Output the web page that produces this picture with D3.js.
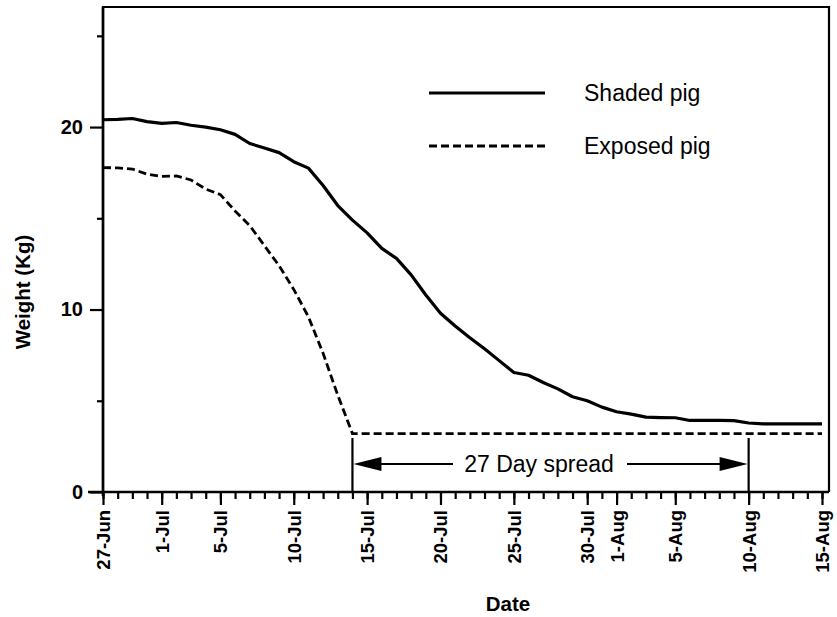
<!DOCTYPE html>
<html>
<head>
<meta charset="utf-8">
<script src="https://cdn.jsdelivr.net/npm/d3@7"></script>
<style>
  body { margin: 0; background: #fff; }
  svg { display: block; font-family: "Liberation Sans", Arial, Helvetica, sans-serif; }
</style>
</head>
<body>
<svg width="837" height="617"></svg>
<script>
// daily weights from 27-Jun
const startDay = '1990-06-27';
const shadedPig = [20.4, 20.42, 20.47, 20.3, 20.2, 20.25, 20.1, 20.0, 19.85, 19.6,
  19.1, 18.85, 18.6, 18.1, 17.75, 16.8, 15.7, 14.9, 14.2, 13.35,
  12.8, 11.9, 10.8, 9.8, 9.1, 8.45, 7.85, 7.2, 6.55, 6.4,
  6.0, 5.65, 5.22, 5.0, 4.65, 4.4, 4.27, 4.1, 4.08, 4.07,
  3.92, 3.92, 3.92, 3.91, 3.78, 3.73, 3.73, 3.73, 3.73, 3.73];
const exposedPig = [17.78, 17.76, 17.7, 17.42, 17.3, 17.32, 17.1, 16.6, 16.3, 15.4,
  14.6, 13.5, 12.4, 11.1, 9.6, 7.6, 5.3, 3.2, 3.2, 3.2,
  3.2, 3.2, 3.2, 3.2, 3.2, 3.2, 3.2, 3.2, 3.2, 3.2,
  3.2, 3.2, 3.2, 3.2, 3.2, 3.2, 3.2, 3.2, 3.2, 3.2,
  3.2, 3.2, 3.2, 3.2, 3.2, 3.2, 3.2, 3.2, 3.2, 3.2];
const xTickLabels = ['27-Jun', '1-Jul', '5-Jul', '10-Jul', '15-Jul', '20-Jul',
  '25-Jul', '30-Jul', '1-Aug', '5-Aug', '10-Aug', '15-Aug'];
const yMajorTicks = [0, 10, 20];
const yMinorTicks = [5, 15, 25];
const seriesNames = ['Shaded pig', 'Exposed pig'];
const spreadDates = ['14-Jul', '10-Aug'];
const spreadLabel = '27 Day spread';

const parseLabel = d3.timeParse('%d-%b-%Y');
const toDate = (s) => parseLabel(s + '-1990');
const start = d3.timeParse('%Y-%m-%d')(startDay);
const days = shadedPig.map((v, i) => d3.timeDay.offset(start, i));

const svg = d3.select('svg');
const m = { left: 103, right: 829, top: 7, bottom: 492 };

const x = d3.scaleTime()
  .domain([start, toDate('15-Aug')])
  .range([m.left, 822]);
const y = d3.scaleLinear()
  .domain([0, 26.58])
  .range([m.bottom, m.top]);

// frame
svg.append('path')
  .attr('d', `M${m.left},${m.bottom}V${m.top}H${m.right}V${m.bottom}`)
  .attr('fill', 'none')
  .attr('stroke', '#000')
  .attr('stroke-width', 2.2);

// x axis: daily minor ticks, labelled major ticks
const xMinor = d3.axisBottom(x)
  .tickValues(d3.timeDay.range(start, d3.timeDay.offset(toDate('15-Aug'), 1)))
  .tickSize(7).tickSizeOuter(0).tickFormat('');
svg.append('g').attr('transform', `translate(0,${m.bottom})`).call(xMinor)
  .call(g => g.select('.domain').remove())
  .call(g => g.selectAll('line').attr('stroke-width', 2.2));

const xMajor = d3.axisBottom(x)
  .tickValues(xTickLabels.map(toDate))
  .tickSize(13).tickSizeOuter(0)
  .tickFormat((d, i) => xTickLabels[i]);
svg.append('g').attr('transform', `translate(0,${m.bottom})`).call(xMajor)
  .call(g => g.select('.domain').remove())
  .call(g => g.selectAll('line').attr('stroke-width', 2.2))
  .call(g => g.selectAll('text')
    .attr('transform', 'rotate(-90)')
    .attr('x', -18).attr('y', 0).attr('dy', '0.35em')
    .attr('text-anchor', 'end')
    .attr('font-size', 18.5).attr('font-weight', 'bold')
    .attr('font-family', '"Liberation Sans", Arial, sans-serif')
    .attr('fill', '#000'));

svg.append('line')
  .attr('x1', 88).attr('x2', m.right)
  .attr('y1', m.bottom).attr('y2', m.bottom)
  .attr('stroke', '#000').attr('stroke-width', 2.6);

// y axis
const yMajor = d3.axisLeft(y).tickValues(yMajorTicks).tickSize(13).tickSizeOuter(0);
svg.append('g').attr('transform', `translate(${m.left},0)`).call(yMajor)
  .call(g => g.select('.domain').remove())
  .call(g => g.selectAll('line').attr('stroke-width', 2.2))
  .call(g => g.selectAll('text')
    .attr('x', -20)
    .attr('font-size', 20).attr('font-weight', 'bold')
    .attr('font-family', '"Liberation Sans", Arial, sans-serif')
    .attr('fill', '#000'));
const yMinor = d3.axisLeft(y).tickValues(yMinorTicks).tickSize(6).tickSizeOuter(0).tickFormat('');
svg.append('g').attr('transform', `translate(${m.left},0)`).call(yMinor)
  .call(g => g.select('.domain').remove())
  .call(g => g.selectAll('line').attr('stroke-width', 2.2));

svg.append('line')
  .attr('x1', m.left).attr('x2', m.left)
  .attr('y1', m.top).attr('y2', m.bottom + 4)
  .attr('stroke', '#000').attr('stroke-width', 2.6);

// axis titles
svg.append('text')
  .attr('transform', 'translate(30,292) rotate(-90)')
  .attr('text-anchor', 'middle')
  .attr('font-size', 20.5).attr('font-weight', 'bold')
  .text('Weight (Kg)');
svg.append('text')
  .attr('x', 508).attr('y', 611)
  .attr('text-anchor', 'middle')
  .attr('font-size', 20.5).attr('font-weight', 'bold')
  .text('Date');

// data lines
const line = d3.line()
  .x((d, i) => x(days[i]))
  .y(d => y(d));

svg.append('path')
  .datum(shadedPig)
  .attr('d', line)
  .attr('fill', 'none')
  .attr('stroke', '#000')
  .attr('stroke-width', 3.2)
  .attr('stroke-linejoin', 'round');

svg.append('path')
  .datum(exposedPig)
  .attr('d', line)
  .attr('fill', 'none')
  .attr('stroke', '#000')
  .attr('stroke-width', 2.8)
  .attr('stroke-dasharray', '8,4');

// legend
const legend = svg.append('g');
seriesNames.forEach((name, i) => {
  const ly = 93 + i * 53;
  legend.append('line')
    .attr('x1', 429).attr('x2', 545)
    .attr('y1', ly).attr('y2', ly)
    .attr('stroke', '#000')
    .attr('stroke-width', i === 0 ? 3.2 : 2.8)
    .attr('stroke-dasharray', i === 0 ? null : '8,4');
  legend.append('text')
    .attr('x', 584).attr('y', ly)
    .attr('dy', '0.35em')
    .attr('font-size', 23)
    .text(name);
});

// 27 day spread annotation
const sx0 = x(toDate(spreadDates[0])), sx1 = x(toDate(spreadDates[1]));
const ay = 464;
const ann = svg.append('g');
[sx0, sx1].forEach(sx => {
  ann.append('line')
    .attr('x1', sx).attr('x2', sx)
    .attr('y1', 438).attr('y2', m.bottom)
    .attr('stroke', '#000').attr('stroke-width', 2.2);
});
ann.append('line')
  .attr('x1', sx0 + 20).attr('x2', 453)
  .attr('y1', ay).attr('y2', ay)
  .attr('stroke', '#000').attr('stroke-width', 2.2);
ann.append('line')
  .attr('x1', 627).attr('x2', sx1 - 20)
  .attr('y1', ay).attr('y2', ay)
  .attr('stroke', '#000').attr('stroke-width', 2.2);
ann.append('path')
  .attr('d', `M${sx0 + 1},${ay}L${sx0 + 29},${ay - 7}L${sx0 + 29},${ay + 7}Z`)
  .attr('fill', '#000');
ann.append('path')
  .attr('d', `M${sx1 - 1},${ay}L${sx1 - 29},${ay - 7}L${sx1 - 29},${ay + 7}Z`)
  .attr('fill', '#000');
ann.append('text')
  .attr('x', 539).attr('y', ay)
  .attr('dy', '0.35em')
  .attr('text-anchor', 'middle')
  .attr('font-size', 23)
  .text(spreadLabel);
</script>
</body>
</html>
